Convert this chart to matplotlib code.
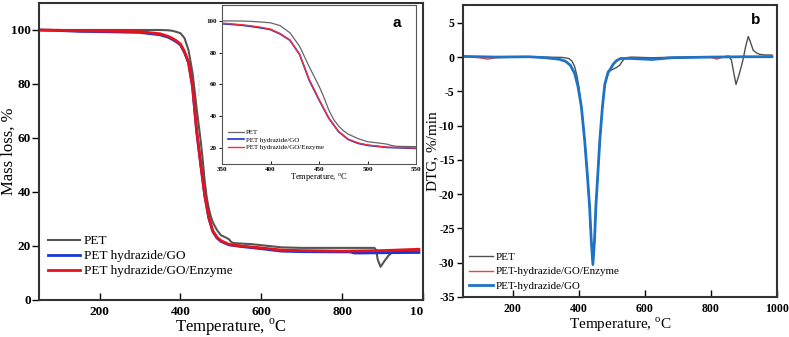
import matplotlib
matplotlib.use("Agg")
import matplotlib.pyplot as plt
from matplotlib.transforms import Bbox, TransformedBbox

plt.rcParams['font.family'] = ['Liberation Serif', 'DejaVu Serif']
plt.rcParams['mathtext.fontset'] = 'custom'
plt.rcParams['mathtext.rm'] = 'Liberation Serif'
plt.rcParams['axes.unicode_minus'] = False

# ---- TGA data (mass loss, %) ----
pet_t = [50, 100, 200, 300, 350, 370, 380, 390, 400, 410, 420, 430, 440, 450, 455, 460, 465,
         470, 475, 480, 490, 500, 510, 520, 525, 530, 550, 575, 600, 650, 700, 800, 880, 884,
         888, 895, 905, 915, 925, 940, 960, 990]
pet_m = [100, 100, 100, 100, 100, 99.9, 99.7, 99.3, 98.8, 97, 92.5, 84, 71, 59, 52, 44, 38,
         34, 31, 28.8, 26, 24, 23.3, 22.5, 21.6, 21.1, 20.9, 20.7, 20.3, 19.5, 19.3, 19.3, 19.3, 18.5,
         15, 12.3, 14.5, 16.5, 17.8, 18, 18.2, 18.5]

go_t = [50, 100, 150, 200, 300, 350, 370, 380, 390, 400, 410, 420, 430, 440, 450, 460, 470,
        480, 490, 500, 520, 550, 600, 650, 700, 800, 820, 830, 850, 900, 990]
go_m = [100, 99.8, 99.5, 99.4, 99.1, 98.2, 97.3, 96.5, 95.6, 94.5, 91.7, 87.8, 78.8, 62.5, 50.3, 38.8, 30.4,
        25.4, 23, 21.7, 20.4, 19.8, 19, 18.1, 17.9, 17.8, 17.8, 17.4, 17.4, 17.5, 17.6]

enz_t = [50, 100, 150, 200, 300, 350, 370, 380, 390, 400, 410, 420, 430, 440, 450, 460, 470,
         480, 490, 500, 520, 550, 600, 650, 700, 800, 900, 990]
enz_m = [100, 99.9, 99.7, 99.6, 99.4, 98.6, 97.6, 96.9, 96, 94.8, 92, 88, 79, 63, 50.6, 39, 30.6,
         25.6, 23.3, 22, 20.6, 20, 19.3, 18.5, 18.3, 18.1, 18.3, 18.8]

# ---- DTG data (%/min) ----
dpet_t = [50, 150, 250, 300, 350, 370, 380, 388, 395, 400, 408, 418, 426, 433, 438, 443, 448,
          452, 458, 464, 472, 479, 489, 494, 505, 515, 524, 532, 540, 560, 620, 700, 800, 855,
          862, 868, 876, 885, 893, 898, 905, 913, 918, 928, 938, 948, 965, 985]
dpet_v = [0.05, 0.05, 0.05, 0, -0.05, -0.2, -0.6, -1.4, -2.8, -4.2, -7.2, -12.1, -17, -21.8, -26.7, -30.4, -26.7,
          -21.8, -17, -12.1, -7.2, -4, -2.4, -2.0, -1.75, -1.5, -1.2, -0.6, -0.1, 0, -0.1, 0, 0, 0,
          -0.4, -2, -4.0, -2.6, -1.2, -0.2, 1.5, 3.0, 2.4, 1.0, 0.6, 0.4, 0.3, 0.3]

denz_t = [50, 100, 125, 150, 200, 250, 300, 340, 360, 375, 388, 398, 408, 418, 426, 433, 438,
          443, 448, 452, 458, 464, 472, 479, 485, 489, 494, 505, 515, 527, 560, 620, 680, 790,
          805, 817, 830, 845, 852, 860, 900, 985]
denz_v = [0.1, -0.1, -0.3, -0.1, 0, 0.05, -0.1, -0.3, -0.6, -1.2, -2.4, -4.3, -7.2, -12.1, -17, -21.8, -26.7,
          -30.2, -26.7, -21.8, -17, -12.1, -7.2, -4, -2.9, -2.2, -1.9, -1.0, -0.5, -0.2, -0.2, -0.35, -0.1, 0,
          -0.1, -0.3, -0.1, 0.1, 0.2, 0, 0.05, 0.05]

dgo_t = [50, 150, 250, 300, 340, 360, 375, 388, 398, 408, 418, 426, 433, 438, 443, 448, 452,
         458, 464, 472, 479, 485, 489, 494, 505, 515, 527, 560, 620, 680, 800, 900, 985]
dgo_v = [0.1, 0.0, 0.05, -0.1, -0.3, -0.6, -1.2, -2.4, -4.3, -7.2, -12.1, -17, -21.8, -26.7, -30.2, -26.7, -21.8,
         -17, -12.1, -7.2, -4, -2.9, -2.2, -1.9, -1.0, -0.5, -0.2, -0.2, -0.35, -0.1, 0.0, 0.05, 0.05]

c_pet = '#555555'
c_go = '#1836d8'
c_enz = '#e8121a'

fig = plt.figure(figsize=(7.89, 3.37), dpi=100)

# ---------------- panel a ----------------
ax = fig.add_axes([0.0494, 0.1098, 0.4867, 0.8813])
ax.plot(pet_t, pet_m, color=c_pet, lw=1.5, label='PET')
ax.plot(go_t, go_m, color=c_go, lw=2, label='PET hydrazide/GO')
ax.plot(enz_t, enz_m, color=c_enz, lw=2, label='PET hydrazide/GO/Enzyme')
ax.set_xlim(50, 1000)
ax.set_ylim(0, 110)
ax.set_xticks([200, 400, 600, 800, 1000])
ax.set_yticks([0, 20, 40, 60, 80, 100])
ax.tick_params(axis='x', direction='in', length=5, width=1, labelsize=9.5, pad=4)
ax.tick_params(axis='y', direction='out', length=5, width=1, labelsize=9.5, pad=1)
for lb in ax.get_xticklabels() + ax.get_yticklabels():
    lb.set_fontweight('bold')
for s in ax.spines.values():
    s.set_linewidth(1.5)
    s.set_color('#333333')
ax.set_xlabel('Temperature, $^{\\mathrm{o}}$C', fontsize=12, labelpad=-1)
ax.set_ylabel('Mass loss, %', fontsize=12)
ax.yaxis.set_label_coords(-0.058, 0.5)
ax.legend(loc='lower left', bbox_to_anchor=(0.0, 0.045), frameon=False, fontsize=9.5,
          handlelength=2.4, handletextpad=0.3, labelspacing=0.22, borderaxespad=0.3)
# the right part of the last tick label is hidden under panel b
clip = TransformedBbox(Bbox([[0, 0], [423 / 789, 1]]), fig.transFigure)
ax.get_xticklabels()[-1].set_clip_box(clip)
ax.get_xticklabels()[-1].set_clip_on(True)

# inset
axi = fig.add_axes([0.2814, 0.5134, 0.2459, 0.4718])
axi.plot(pet_t, pet_m, color='#666666', lw=0.9, label='PET')
axi.plot(go_t, go_m, color=c_go, lw=1.2, label='PET hydrazide/GO')
axi.plot(enz_t, enz_m, color='#f0303a', lw=1.0, label='PET hydrazide/GO/Enzyme')
axi.set_xlim(350, 550)
axi.set_ylim(10, 110)
axi.set_xticks([350, 400, 450, 500, 550])
axi.set_yticks([20, 40, 60, 80, 100])
axi.tick_params(axis='both', length=2, width=0.6, labelsize=5, pad=2)
axi.tick_params(axis='x', direction='in')
for lb in axi.get_xticklabels() + axi.get_yticklabels():
    lb.set_fontweight('bold')
for s in axi.spines.values():
    s.set_linewidth(0.8)
    s.set_color('#555555')
axi.set_xlabel('Temperature, $^{\\mathrm{o}}$C', fontsize=6, labelpad=0)
axi.set_ylabel('Mass loss, %', fontsize=3, color='#c8c8c8', labelpad=3)
axi.legend(loc='lower left', bbox_to_anchor=(0.0, 0.05), frameon=False, fontsize=5,
           handlelength=2.4, handletextpad=0.3, labelspacing=0.25, borderaxespad=0.4)
axi.text(0.90, 0.887, 'a', transform=axi.transAxes, fontsize=11, fontweight='bold',
         family='Liberation Sans', ha='center', va='center')

# ---------------- panel b ----------------
bx = fig.add_axes([0.5868, 0.1187, 0.398, 0.8665])
bx.plot(dpet_t, dpet_v, color='#505050', lw=1.0, label='PET')
bx.plot(denz_t, denz_v, color='#f04040', lw=1.0, label='PET-hydrazide/GO/Enzyme')
bx.plot(dgo_t, dgo_v, color='#1f73c4', lw=2.0, label='PET-hydrazide/GO')
bx.set_xlim(50, 1000)
bx.set_ylim(-35, 7.6)
bx.set_xticks([200, 400, 600, 800, 1000])
bx.set_yticks([-35, -30, -25, -20, -15, -10, -5, 0, 5])
bx.tick_params(axis='x', direction='in', length=5, width=1, labelsize=8.5, pad=4)
bx.tick_params(axis='y', direction='out', length=4, width=1, labelsize=8.5, pad=2)
for lb in bx.get_xticklabels() + bx.get_yticklabels():
    lb.set_fontweight('bold')
for s in bx.spines.values():
    s.set_linewidth(1.5)
    s.set_color('#333333')
bx.set_xlabel('Temperature, $^{\\mathrm{o}}$C', fontsize=11, labelpad=1)
bx.set_ylabel('DTG, %/min', fontsize=11)
bx.yaxis.set_label_coords(-0.077, 0.5)
bx.legend(loc='lower left', frameon=False, fontsize=7.9, handlelength=2.2,
          handletextpad=0.2, labelspacing=0.45, borderaxespad=0.15)
bx.text(0.933, 0.949, 'b', transform=bx.transAxes, fontsize=11, fontweight='bold',
        family='Liberation Sans', ha='center', va='center')

fig.savefig('out.png', dpi=100)
